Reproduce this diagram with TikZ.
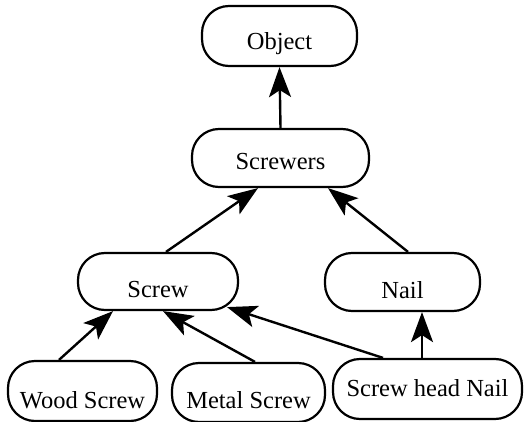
\documentclass[tikz,border=0pt]{standalone}
\usepackage{fontspec}
\setmainfont{Liberation Serif}
\usetikzlibrary{arrows.meta}
\begin{document}
\begin{tikzpicture}[x=1pt,y=-1pt,
  box/.style={draw, line width=2.2pt, rounded corners=27pt, inner sep=0pt,
    text depth=0pt, font=\fontsize{24.5}{28}\selectfont},
  isa/.style={line width=2.4pt, -{Stealth[length=30pt,width=22pt,inset=7pt]}}]
\useasboundingbox (0,0) rectangle (524,422);
\node[box, minimum width=155pt, minimum height=60pt, text height=28pt] (obj) at (279.5,36) {Object};
\node[box, minimum width=177pt, minimum height=58pt, text height=24pt] (scr) at (280.5,158) {Screwers};
\node[box, minimum width=160pt, minimum height=57pt, text height=32pt] (screw) at (158,281.5) {Screw};
\node[box, minimum width=155pt, minimum height=58pt, text height=32pt] (nail) at (402.5,282) {Nail};
\node[box, minimum width=149pt, minimum height=60pt, text height=34pt] (wood) at (82.5,391) {Wood Screw};
\node[box, minimum width=153pt, minimum height=59pt, text height=32pt] (metal) at (248.5,392.5) {Metal Screw};
\node[box, minimum width=189pt, minimum height=60pt, text height=14pt] (shn) at (427.5,389) {Screw head Nail};
\draw[isa] (scr.north) -- (obj.south);
\draw[isa] ([xshift=8pt]screw.north) -- ([xshift=-22.5pt]scr.south);
\draw[isa] ([xshift=5.5pt]nail.north) -- ([xshift=47.5pt]scr.south);
\draw[isa] ([xshift=-23.5pt]wood.north) -- ([xshift=-45pt]screw.south);
\draw[isa] ([xshift=6.5pt]metal.north) -- ([xshift=5pt]screw.south);
\draw[isa] ([xshift=-44.5pt]shn.north) -- ([xshift=69pt,yshift=4pt]screw.south);
\draw[isa] ([xshift=-5.5pt]shn.north) -- ([xshift=19.5pt]nail.south);
\end{tikzpicture}
\end{document}
